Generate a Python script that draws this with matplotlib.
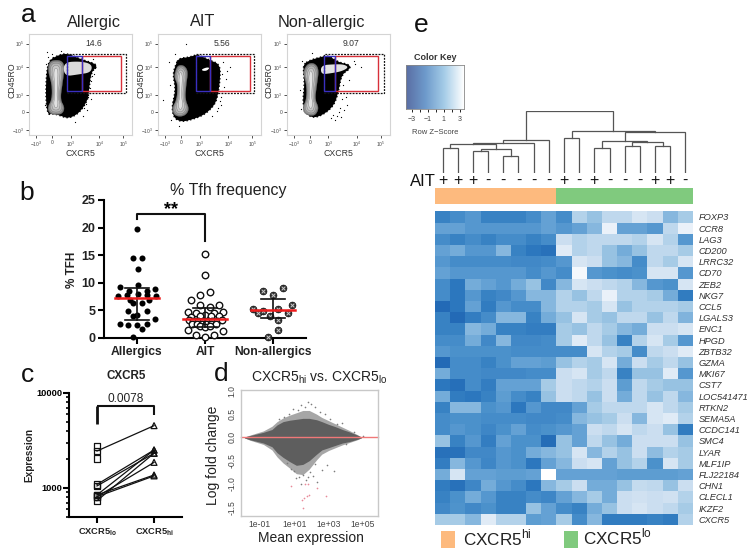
import numpy as np
import matplotlib
matplotlib.use("Agg")
import matplotlib.pyplot as plt
from matplotlib.colors import LinearSegmentedColormap
from matplotlib.patches import Polygon, Rectangle
from matplotlib.ticker import FixedLocator, FixedFormatter, NullFormatter, LogLocator

plt.rcParams['font.family'] = ['Liberation Sans', 'DejaVu Sans']
plt.rcParams['mathtext.fontset'] = 'custom'
plt.rcParams['mathtext.rm'] = 'Liberation Sans'
plt.rcParams['mathtext.bf'] = 'Liberation Sans:bold'

W, H = 754, 557

# --- panel a: flow plots, everything as fractions of the plot box
flow_titles = ['Allergic', 'AIT', 'Non-allergic']
flow_freq = ['14.6', '5.56', '9.07']
flow_xticks = [0.065, 0.223, 0.401, 0.68, 0.913]
flow_xlabels = ['$-10^3$', '0', '$10^3$', '$10^4$', '$10^5$']
flow_yticks = [0.046, 0.225, 0.397, 0.669, 0.904]
flow_ylabels = ['$-10^3$', '0', '$10^3$', '$10^4$', '$10^5$']

flow_cloud = [
    [(.19, .74), (.28, .79), (.37, .81), (.50, .75), (.63, .71), (.66, .68), (.60, .62), (.58, .45),
     (.57, .35), (.49, .22), (.38, .16), (.28, .20), (.22, .21), (.18, .20), (.16, .35), (.165, .60)],
    [(.17, .70), (.20, .76), (.30, .77), (.38, .80), (.50, .74), (.60, .70), (.60, .55), (.58, .40),
     (.55, .30), (.45, .20), (.32, .15), (.22, .13), (.15, .17), (.13, .28), (.17, .45), (.14, .60)],
    [(.16, .70), (.22, .74), (.32, .77), (.40, .79), (.50, .72), (.60, .70), (.62, .66), (.53, .60),
     (.50, .43), (.46, .30), (.38, .22), (.28, .17), (.20, .19), (.15, .30), (.17, .50), (.16, .62)],
]
flow_body = [
    [(.185, .70), (.22, .74), (.31, .74), (.345, .68), (.32, .50), (.30, .35), (.345, .27), (.32, .21),
     (.26, .20), (.20, .21), (.175, .27), (.22, .35), (.22, .50), (.185, .62)],
    [(.165, .63), (.19, .69), (.25, .69), (.29, .63), (.27, .50), (.26, .35), (.30, .26), (.27, .20),
     (.21, .18), (.15, .20), (.135, .27), (.18, .35), (.19, .50), (.155, .57)],
    [(.17, .66), (.21, .71), (.27, .71), (.31, .65), (.29, .50), (.27, .35), (.31, .27), (.28, .20),
     (.23, .19), (.17, .21), (.15, .27), (.19, .35), (.19, .50), (.16, .60)],
]
flow_blob = [
    [(.33, .72), (.50, .73), (.61, .70), (.60, .62), (.48, .60), (.34, .58)],
    [(.42, .65), (.47, .67), (.50, .665), (.47, .635), (.43, .635)],
    [(.33, .69), (.45, .70), (.55, .70), (.60, .67), (.53, .63), (.42, .61), (.33, .60)],
]
flow_blob_col = ['#dadada', '#ffffff', '#e2e2e2']
flow_gate = [(.362, .938, .42, .80), (.366, .929, .42, .80), (.356, .939, .42, .80)]
flow_red = [(.507, .886, .44, .785), (.50, .89, .44, .785), (.47, .885, .44, .785)]
flow_blue = [(.362, .507, .44, .785), (.366, .50, .44, .785), (.356, .47, .44, .785)]
flow_stray_x = [
    [.17, .18, .22, .16, .62, .64, .55, .60, .57, .15, .59, .31, .44, .53, .61, .63, .59, .56, .52, .60],
    [.27, .70, .05, .12, .11, .62, .64, .61, .66, .10, .63, .20, .16, .67, .62, .61, .60, .58, .57, .52],
    [.72, .15, .14, .65, .58, .55, .52, .50, .47, .57, .13, .66, .24, .60, .54, .53, .51, .49, .45, .43],
]
flow_stray_y = [
    [.82, .77, .80, .70, .75, .66, .31, .53, .38, .30, .47, .83, .13, .27, .58, .60, .42, .25, .19, .36],
    [.90, .67, .35, .15, .50, .60, .48, .30, .55, .72, .72, .09, .80, .63, .44, .38, .34, .27, .24, .19],
    [.67, .73, .26, .73, .30, .25, .18, .23, .15, .38, .45, .70, .81, .54, .50, .36, .27, .19, .20, .17],
]

# --- panel b
b_groups = ['Allergics', 'AIT', 'Non-allergics']
allerg_x = [1.0, .936, 1.078, 1.01, 1.01, .75, 1.27, .88, 1.14, 1.01, .725, .85, 1.14, 1.28, .90, 1.17,
            .945, 1.07, .87, 1.14, 1.0, .945, 1.27, .75, .87, 1.0, 1.14, 1.08, .94]
allerg_y = [19.8, 14.55, 14.55, 12.44, 9.66, 9.18, 8.82, 8.57, 8.57, 7.97, 7.6, 7.8, 7.8, 7.6, 6.9, 6.9,
            6.3, 6.3, 4.9, 4.9, 4.2, 3.9, 3.44, 2.5, 2.4, 2.4, 2.5, 1.57, 0.1]
ait_x = [2.0, 2.0, 2.07, 1.93, 1.79, 2.21, 1.93, 2.07, 1.75, 2.26, 1.87, 2.13, 2.0, 2.09, 1.93, 2.2, 1.8,
         1.76, 1.83, 1.9, 1.97, 2.04, 2.11, 2.18, 2.25, 1.81, 1.88, 1.95, 2.02, 2.09, 2.16, 1.92, 2.0, 2.08,
         1.75, 2.26, 1.87, 2.13, 2.0]
ait_y = [15.3, 11.5, 8.3, 7.85, 6.8, 6.05, 5.9, 5.55, 4.8, 4.8, 4.45, 4.45, 4.2, 4.0, 4.0, 3.9, 3.8,
         3.2, 3.1, 3.0, 3.0, 3.0, 3.1, 3.1, 3.3, 2.6, 2.5, 2.5, 2.5, 2.5, 2.6, 2.1, 2.0, 2.1,
         1.4, 1.2, 0.6, 0.6, 0.2]
nonal_x = [3.14, 2.86, 3.0, 3.28, 2.71, 2.86, 3.07, 2.78, 2.95, 3.22, 3.07, 3.07, 2.93]
nonal_y = [9.06, 8.57, 7.85, 6.04, 5.3, 4.95, 5.2, 4.47, 4.05, 4.47, 3.26, 1.45, 0.18]
b_means = [7.2, 3.5, 5.05]
b_err_lo = [3.3, 2.0, 3.7]
b_err_hi = [9.0, 5.4, 7.0]

# --- panel c
c_labels = [r'CXCR5$_{\mathbf{lo}}$', r'CXCR5$_{\mathbf{hi}}$']
c_lo = [2450, 1090, 1050, 845, 810, 735, 845, 810]
c_hi = [4530, 2510, 2320, 2510, 1860, 2320, 1370, 1340]
c_lo_single = [2720, 2050]

# --- panel d, log10 of mean expression against log fold change
d_lx = [-1.9, -1.58, -.8, -.3, 0, .35, .73, 1.12, 1.5, 1.87, 2.3, 2.6, 3.0, 3.4, 3.8, 4.2, 4.67, 4.9]
d_upper = [.01, .04, .11, .17, .27, .34, .37, .39, .41, .41, .38, .34, .28, .23, .17, .12, .05, .01]
d_lower = [-.01, -.05, -.12, -.2, -.33, -.43, -.52, -.60, -.58, -.50, -.36, -.27, -.22, -.17, -.12, -.09, -.04, -.01]
d_fringe_up = [.01, .05, .14, .24, .34, .42, .48, .53, .58, .58, .50, .43, .36, .29, .22, .15, .06, .01]
d_fringe_lo = [-.01, -.06, -.15, -.27, -.42, -.55, -.66, -.78, -.80, -.68, -.48, -.36, -.28, -.22, -.16, -.11, -.05, -.01]
d_sparse_lx = [.1, .4, .7, .9, 1.2, 1.4, 1.6, 1.8, 2.0, 2.2, 2.5, 2.8, 3.1, 3.5, 3.8, 4.5, 5.0, 1.0, 1.3, 1.5,
               1.7, 1.9, 2.1, 2.3, 2.6, 2.9, .6, .8, 1.1, 1.4, 1.8, 2.2, 3.3, 4.0]
d_sparse_y = [.40, .45, .50, .62, .58, .70, .66, .76, .72, .65, .55, .50, .40, .28, .30, .12, .04, -.72, -.85,
              -.80, -.92, -.75, -.82, -.95, -.70, -.60, -.55, -.68, -.88, -1.0, -.85, -.58, -.72, -.15]
d_red_lx = [.83, 1.6, 1.79, 2.3, 1.54, 1.73, 1.85, 1.46, 2.85, 1.5]
d_red_y = [-1.05, -1.0, -1.0, -1.09, -1.31, -1.27, -1.24, -1.35, -1.27, -1.52]

# --- panel e
genes = ['FOXP3', 'CCR8', 'LAG3', 'CD200', 'LRRC32', 'CD70', 'ZEB2', 'NKG7', 'CCL5', 'LGALS3', 'ENC1', 'HPGD',
         'ZBTB32', 'GZMA', 'MKI67', 'CST7', 'LOC541471', 'RTKN2', 'SEMA5A', 'CCDC141', 'SMC4', 'LYAR', 'MLF1IP',
         'FLJ22184', 'CHN1', 'CLECL1', 'IKZF2', 'CXCR5']
# shade level per cell: 1 is the darkest blue, 10 is white
heat = [
    [2.5, 3, 3.5, 2.5, 2.5, 2.5, 3, 4, 3, 6.5, 5.5, 7, 7, 8, 7.5, 5, 6],
    [4, 4, 3.5, 3.5, 3.5, 3.5, 3.5, 4, 3.5, 4, 5, 9, 4, 4, 3.5, 7, 9],
    [3, 2.5, 3, 2.5, 3, 3, 2.5, 3, 7.5, 6.5, 7, 7, 7, 6.5, 8, 6.5, 3.5],
    [4, 4.5, 3.5, 3.5, 5, 2.5, 2, 1.8, 8.5, 6.5, 7, 5.5, 4.5, 5.5, 7, 7, 6],
    [3.5, 3, 3, 3, 3, 2.8, 2.8, 3, 3.5, 8, 7.5, 5.5, 5, 3, 7, 6, 8],
    [4, 3.5, 3.5, 3.5, 3.5, 3.5, 3, 3.5, 3, 9.5, 3.5, 3.2, 3, 3.2, 8, 8, 3.5],
    [3, 2, 4.5, 4, 3.5, 4.5, 5.5, 2.8, 5, 8, 7.5, 7, 6.5, 5, 3.5, 3.2, 8],
    [3, 2, 3.5, 2.5, 2.8, 3.5, 5, 5, 6.5, 5.5, 7, 9, 6.5, 6.5, 6, 4.5, 2.2],
    [1.5, 2, 4, 2.2, 3.5, 3, 3, 5, 6.5, 6.5, 6, 8, 5.5, 6.5, 6.5, 6.5, 6],
    [2.5, 1.5, 2.3, 3, 5, 5, 2.5, 4.5, 5.5, 8, 6, 5.5, 7, 7, 5.5, 7, 4.8],
    [2.5, 2.5, 5, 4.5, 2.5, 2.5, 2.3, 2.3, 6, 5.5, 7, 6, 5, 4.5, 7.5, 7.5, 8],
    [3, 3, 4.5, 2.8, 5, 2.8, 2.8, 3, 6, 8.5, 7, 5.5, 2.5, 6.5, 8, 6, 3.5],
    [3.5, 3.2, 3.2, 3.2, 3.2, 3, 3, 3, 3, 3, 8, 6.5, 6, 3, 7, 7.5, 8.5],
    [1.5, 3, 3, 2.5, 3.2, 4, 4, 3.8, 5.5, 6.5, 6, 8, 4.5, 7.5, 6, 7, 5.5],
    [4.5, 3, 3, 2.8, 2.8, 2.8, 3, 3, 7.5, 8, 6, 7, 2.5, 5.5, 5.5, 8.5, 3.5],
    [2, 1.7, 3, 2.3, 4, 4, 4, 6, 7.5, 7, 6.5, 7.5, 3.8, 7, 6, 5.5, 5.5],
    [4.5, 2.2, 2, 2.5, 3.8, 3, 2.5, 5.5, 7.5, 7, 5.5, 7.5, 4.5, 7, 5.5, 7, 5],
    [2.5, 5, 5, 3.2, 3.5, 2, 3.5, 2.8, 2.8, 4, 6, 7, 7, 7, 8, 7, 6],
    [3, 3.2, 3.2, 3, 3, 3, 2.8, 2.8, 3, 5, 5.5, 6, 7.5, 5, 8, 8.5, 6.5],
    [3, 3.5, 3.2, 2.7, 3.2, 4, 3, 3.2, 3.5, 4, 7.5, 7, 8, 7, 7.5, 5.5, 2.2],
    [5.5, 2.5, 3.5, 2.3, 4, 3.2, 3.2, 1.6, 5.5, 4, 7, 5.5, 4.5, 7.5, 7.5, 7.5, 5.5],
    [1.8, 1.8, 2.8, 2.8, 3.5, 3.2, 4.5, 5, 5.5, 8, 5, 6.5, 5.5, 7.5, 5.2, 6.5, 6],
    [2.3, 5, 3.5, 2.7, 3.5, 3.2, 2, 4, 5, 7.5, 8, 4, 5.5, 6.5, 3.2, 8, 6],
    [4.5, 8, 4, 4, 3.8, 3.8, 4, 10, 4, 4, 4, 4, 3.8, 3.8, 3.8, 3.8, 4],
    [2.2, 1.8, 2.7, 4.5, 3.5, 3, 2, 5, 6, 7.5, 4.5, 4.5, 5.5, 7.2, 7, 5.5, 7.5],
    [2.5, 3.2, 4.5, 3.5, 2.5, 2.5, 3, 2.7, 4, 5, 6, 4.5, 7.5, 7.7, 7.5, 7.7, 6.5],
    [2.8, 3.3, 2.8, 3.2, 2.5, 2.5, 5.5, 4, 3, 2.5, 4.5, 5.5, 7.5, 8, 7.5, 7, 6],
    [6, 6, 5, 8.5, 6.5, 6.5, 3.8, 4, 6, 3, 5, 2.2, 2.2, 2.2, 2.5, 2.2, 6.5],
]
ait_signs = ['+', '+', '+', '-', '-', '-', '-', '-', '+', '-', '+', '-', '-', '-', '+', '+', '-']
n_hi = 8
# dendrogram merges: (left child, right child, height); ints are leaves, strings are earlier merges
merges = {
    'A': (0, 1, 77), 'B': (2, 3, 67), 'C': (4, 5, 53), 'D': ('B', 'C', 72), 'E': ('A', 'D', 87),
    'F': ('E', 6, 90), 'G': ('F', 7, 100), 'H': (8, 9, 107), 'I': (10, 11, 77), 'J': (12, 13, 83),
    'K': (14, 15, 83), 'L': ('J', 'K', 93), 'M': ('I', 'L', 98), 'N': ('M', 16, 125), 'O': ('H', 'N', 127),
    'R': ('G', 'O', 188),
}
key_ticks = [-3, -2, -1, 0, 1, 2, 3]
key_labels = ['\u22123', '', '\u22121', '', '1', '', '3']

fig = plt.figure(figsize=(W / 100, H / 100), dpi=100)


def box(x0, y0, x1, y1):
    return fig.add_axes([x0 / W, 1 - y1 / H, (x1 - x0) / W, (y1 - y0) / H])


def ptext(x, y, s, **kw):
    kw.setdefault('ha', 'center')
    kw.setdefault('va', 'center')
    fig.text(x / W, 1 - y / H, s, **kw)


def round_off(points, passes=3):
    # corner cutting, so the hand read outlines do not look like polygons
    pts = np.array(points)
    for _ in range(passes):
        nxt = np.roll(pts, -1, axis=0)
        pts = np.column_stack([.75 * pts + .25 * nxt, .25 * pts + .75 * nxt]).reshape(-1, 2)
    return pts


for x, y, s in [(28, 15, 'a'), (27, 193, 'b'), (27, 375, 'c'), (221, 374, 'd'), (421, 25, 'e')]:
    ptext(x, y, s, fontsize=19, color='#111111')

# panel a
flow_left = [29.3, 158.3, 287]
flow_title_pos = [(94, 23), (203, 21), (321, 23)]
for i, x0 in enumerate(flow_left):
    ax = box(x0, 34, x0 + 103, 135)
    ax.set_xlim(0, 1)
    ax.set_ylim(0, 1)
    for s in ax.spines.values():
        s.set_color('#d4d4d4')
        s.set_linewidth(0.8)
    ax.add_patch(Polygon(round_off(flow_cloud[i]), closed=True, fc='black', ec='black', lw=1.0, ls=':'))
    ax.scatter(flow_stray_x[i], flow_stray_y[i], s=0.8, c='black', lw=0)
    body = round_off(flow_body[i])
    mid = body.mean(axis=0)
    for sx, sy, col in [(1.0, 1.0, '#7e7e7e'), (.88, .96, '#9e9e9e'), (.72, .90, '#b6b6b6'),
                        (.5, .82, '#c8c8c8'), (.25, .72, '#e2e2e2')]:
        ax.add_patch(Polygon(mid + (body - mid) * [sx, sy], closed=True, fc=col, ec='#707070', lw=0.25))
    ax.add_patch(Polygon(round_off(flow_blob[i]), closed=True, fc=flow_blob_col[i], ec='none'))
    gx0, gx1, gy0, gy1 = flow_gate[i]
    ax.add_patch(Rectangle((gx0, gy0), gx1 - gx0, gy1 - gy0, fc='none', ec='#111111', lw=0.9, ls=(0, (1.5, 1))))
    rx0, rx1, ry0, ry1 = flow_red[i]
    ax.add_patch(Rectangle((rx0, ry0), rx1 - rx0, ry1 - ry0, fc='none', ec='#d8303a', lw=1.0))
    bx0, bx1, by0, by1 = flow_blue[i]
    ax.add_patch(Rectangle((bx0, by0), bx1 - bx0, by1 - by0, fc='none', ec='#3a2fc0', lw=1.0))
    ax.set_xticks(flow_xticks)
    ax.set_xticklabels(flow_xlabels, fontsize=3.5, color='#444444')
    ax.set_yticks(flow_yticks)
    ax.set_yticklabels(flow_ylabels, fontsize=3.5, color='#444444')
    ax.tick_params(length=2, width=0.6, pad=1.5, color='#333333')
    ptext(x0 + 64, 43, flow_freq[i], fontsize=6.2, color='#333333')
    ptext(x0 + 51, 154, 'CXCR5', fontsize=6.3, color='#333333')
    ptext(x0 - 17.5, 80, 'CD45RO', fontsize=6.3, rotation=90, color='#333333')
    ptext(flow_title_pos[i][0], flow_title_pos[i][1], flow_titles[i], fontsize=11.7, color='#222222')

# panel b
ax = box(104, 200, 306, 338)
ax.set_xlim(0.515, 3.485)
ax.set_ylim(0, 25)
ax.scatter(allerg_x, allerg_y, s=19, c='black', lw=0, zorder=3, clip_on=False)
ax.scatter(ait_x, ait_y, s=22, facecolors='white', edgecolors='#111111', lw=1.0, zorder=3, clip_on=False)
ax.scatter(nonal_x, nonal_y, s=25, c='#333333', lw=0.4, edgecolors='black', zorder=3, clip_on=False)
ax.scatter(nonal_x, nonal_y, s=7, c='#c8c8c8', marker='x', lw=0.7, zorder=4, clip_on=False)
for i in range(3):
    pos = i + 1
    ax.plot([pos, pos], [b_err_lo[i], b_err_hi[i]], color='#111111', lw=1.2, zorder=4)
    for v in (b_err_lo[i], b_err_hi[i]):
        ax.plot([pos - .17, pos + .17], [v, v], color='#111111', lw=1.2, zorder=4)
    ax.plot([pos - .33, pos + .33], [b_means[i], b_means[i]], color='#ee1c1c', lw=1.8, zorder=5)
ax.plot([1, 1, 2, 2], [21.5, 22.5, 22.5, 17.6], color='#111111', lw=1.5, clip_on=False)
ax.text(1.5, 23.2, '**', ha='center', va='center', fontsize=13, fontweight='bold')
ax.set_xticks([1, 2, 3])
ax.set_xticklabels(b_groups, fontsize=8.7, fontweight='bold', color='#222222')
ax.set_yticks([0, 5, 10, 15, 20, 25])
ax.set_yticklabels(['0', '5', '10', '15', '20', '25'], fontsize=9, fontweight='bold', color='#222222')
ax.tick_params(width=1.5, length=4, pad=2)
for s in ['top', 'right']:
    ax.spines[s].set_visible(False)
for s in ['left', 'bottom']:
    ax.spines[s].set_linewidth(1.5)
ptext(72, 270, '% TFH', fontsize=8.5, fontweight='bold', rotation=90, color='#222222')
ptext(228, 191, '% Tfh frequency', fontsize=11.5, color='#222222')

# panel c
ax = box(69, 393, 182, 517)
ax.set_xlim(-.49, 1.49)
ax.set_yscale('log')
ax.set_ylim(495, 10000)
for lo, hi in zip(c_lo, c_hi):
    ax.plot([0, 1], [lo, hi], color='#111111', lw=0.9, zorder=2)
ax.scatter([0] * len(c_lo), c_lo, s=22, marker='s', facecolors='none', edgecolors='#111111', lw=0.9, zorder=3)
ax.scatter([0] * len(c_lo_single), c_lo_single, s=22, marker='s', facecolors='none', edgecolors='#111111',
           lw=0.9, zorder=3)
ax.scatter([1] * len(c_hi), c_hi, s=18, marker='^', facecolors='none', edgecolors='#111111', lw=0.9, zorder=3)
ax.plot([0, 0], [4700, 7350], color='#111111', lw=2.0, solid_capstyle='butt')
ax.plot([0, 1, 1], [7350, 7350, 5900], color='#111111', lw=1.5, solid_capstyle='butt')
ax.text(.5, 8700, '0.0078', ha='center', va='center', fontsize=8.6, color='#222222')
ax.set_xticks([0, 1])
ax.set_xticklabels(c_labels, fontsize=6.7, fontweight='bold', color='#222222')
ax.yaxis.set_major_locator(FixedLocator([1000, 10000]))
ax.yaxis.set_major_formatter(FixedFormatter(['1000', '10000']))
ax.yaxis.set_minor_locator(LogLocator(base=10, subs=range(2, 10)))
ax.yaxis.set_minor_formatter(NullFormatter())
ax.tick_params(axis='y', which='major', labelsize=6.7, width=1.5, length=4, pad=1)
ax.tick_params(axis='y', which='minor', width=1.2, length=2.5)
ax.tick_params(axis='x', width=1.5, length=4, pad=3)
for lab in ax.get_yticklabels():
    lab.set_fontweight('bold')
for s in ['top', 'right']:
    ax.spines[s].set_visible(False)
for s in ['left', 'bottom']:
    ax.spines[s].set_linewidth(1.5)
ptext(29, 455, 'Expression', fontsize=7.2, fontweight='bold', rotation=90, color='#222222')
ptext(126, 376, 'CXCR5', fontsize=8.4, fontweight='bold', color='#222222')

# panel d
ax = box(241, 390, 378, 516)
ax.set_xscale('log')
ax.set_xlim(10 ** -2.1, 10 ** 5.87)
ax.set_ylim(-1.69, 1.02)
d_x = 10 ** np.array(d_lx)
ax.fill_between(d_x, d_fringe_lo, d_fringe_up, color='#a6a6a6', lw=0)
ax.scatter(10 ** np.array(d_sparse_lx), d_sparse_y, s=1.4, c='#7c7c7c', lw=0)
ax.fill_between(d_x, d_lower, d_upper, color='#5e5e5e', lw=0)
ax.scatter(10 ** np.array(d_red_lx), d_red_y, s=1.5, c='#e88a9a', lw=0)
ax.plot(ax.get_xlim(), [0, 0], color='#f07878', lw=1.0, clip_on=False)
ax.set_xticks([1e-1, 1e1, 1e3, 1e5])
ax.set_xticklabels(['1e-01', '1e+01', '1e+03', '1e+05'], fontsize=6.2, color='#444444')
ax.xaxis.set_minor_locator(FixedLocator([]))
ax.set_yticks([-1.5, -1.0, -.5, 0, .5, 1.0])
ax.set_yticklabels(['-1.5', '-1.0', '-0.5', '0.0', '0.5', '1.0'], fontsize=6.2, rotation=90, va='center',
                   color='#444444')
ax.tick_params(length=0, pad=3)
for s in ax.spines.values():
    s.set_color('#c8c8c8')
    s.set_linewidth(1.0)
ptext(213, 455, 'Log fold change', fontsize=10, rotation=90, color='#222222')
ptext(311, 538, 'Mean expression', fontsize=10, color='#222222')
ptext(319, 378, r'CXCR5$_{\mathrm{hi}}$ vs. CXCR5$_{\mathrm{lo}}$', fontsize=10, color='#222222')

# panel e: colour key
key_cmap = LinearSegmentedColormap.from_list('key', ['#5a6ea4', '#6d9acb', '#a6cde8', '#ffffff'])
ax = box(406, 65, 464, 109)
ax.imshow(np.linspace(0, 1, 200)[None, :], cmap=key_cmap, aspect='auto', extent=(-3.7, 3.5, 0, 1))
ax.set_yticks([])
ax.set_xticks(key_ticks)
ax.set_xticklabels(key_labels, fontsize=5, color='#444444')
ax.tick_params(length=2.5, width=0.6, pad=2.5)
for s in ax.spines.values():
    s.set_color('#888888')
    s.set_linewidth(0.6)
ptext(435, 57, 'Color Key', fontsize=6.5, fontweight='bold', color='#333333')
ptext(435, 133, 'Row Z\u2212Score', fontsize=5.5, color='#444444')

# dendrogram
ax = box(435, 110.7, 693, 173.3)
ax.set_xlim(-.5, 16.5)
ax.set_ylim(0, 188)
ax.axis('off')
centers = {}
tops = {}
for name, (left, right, height) in merges.items():
    x_l = centers.get(left, left)
    x_r = centers.get(right, right)
    ax.plot([x_l, x_l, x_r, x_r], [tops.get(left, 0), height, height, tops.get(right, 0)],
            color='#555555', lw=0.9, solid_joinstyle='miter')
    centers[name] = (x_l + x_r) / 2
    tops[name] = height

# annotation bar and AIT row
ax = box(435, 188.3, 693, 204.3)
ax.set_xlim(-.5, 16.5)
ax.set_ylim(0, 1)
ax.axis('off')
for c in range(len(ait_signs)):
    ax.add_patch(Rectangle((c - .5, 0), 1, 1, fc='#fdba7e' if c < n_hi else '#80ca7e', ec='none'))
ptext(423, 181, 'AIT', fontsize=12, color='#111111')
for c, sign in enumerate(ait_signs):
    ptext(442.6 + c * 258 / 17, 180, sign, fontsize=11.5, color='#111111')

# heatmap
heat_cmap = LinearSegmentedColormap.from_list(
    'heat', [(0, '#1a5eae'), (.12, '#2e79bf'), (.24, '#4a90cb'), (.36, '#6ba6d6'), (.47, '#8fbde0'),
             (.58, '#accfe8'), (.72, '#cbdef0'), (.88, '#e8f0f8'), (1, '#ffffff')])
ax = box(435, 211.3, 693, 525)
ax.pcolormesh(np.array(heat), cmap=heat_cmap, vmin=1, vmax=10, linewidth=0, rasterized=True)
ax.set_ylim(len(genes), 0)
ax.set_xticks([])
ax.yaxis.tick_right()
ax.set_yticks(np.arange(len(genes)) + .5)
ax.set_yticklabels(genes, fontsize=6.7, style='italic', color='#333333')
ax.tick_params(length=0, pad=4)
for s in ax.spines.values():
    s.set_visible(False)

# legend under the heatmap
fig.patches.append(Rectangle((441 / W, 1 - 548 / H), 14 / W, 17 / H, transform=fig.transFigure, fc='#fdba7e', ec='none'))
fig.patches.append(Rectangle((564 / W, 1 - 548 / H), 14 / W, 17 / H, transform=fig.transFigure, fc='#80ca7e', ec='none'))
ptext(463, 538, r'CXCR5$^{\mathrm{hi}}$', fontsize=12.3, ha='left', color='#222222')
ptext(583, 537, r'CXCR5$^{\mathrm{lo}}$', fontsize=12.3, ha='left', color='#222222')

fig.savefig('out.png', dpi=100)
